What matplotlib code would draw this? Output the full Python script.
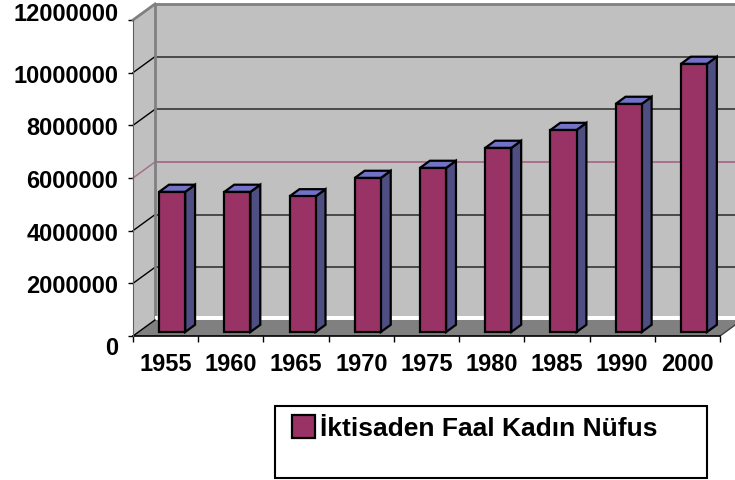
import matplotlib.pyplot as plt
from matplotlib.patches import Polygon, Rectangle

# data
yillar = ["1955", "1960", "1965", "1970", "1975", "1980", "1985", "1990", "2000"]
nufus = [5320000, 5320000, 5150000, 5850000, 6230000, 6990000, 7670000, 8660000, 10180000]
etiket = "İktisaden Faal Kadın Nüfus"
y_ticks = [0, 2000000, 4000000, 6000000, 8000000, 10000000, 12000000]

plt.rcParams['font.family'] = ['Liberation Sans', 'DejaVu Sans']
plt.rcParams['font.weight'] = 'bold'

W, H = 735, 481
fig = plt.figure(figsize=(W / 100, H / 100), dpi=100)
ax = fig.add_axes([133 / W, (H - 337) / H, 587 / W, 316 / H])

n = len(yillar)
ymax = y_ticks[-1]
ax.set_xlim(0, n)
ax.set_ylim(0, ymax)

# 3d offsets (depth of the box) in data units
dx = 0.337
dy = 0.608e6

duvar = "#c0c0c0"
# back wall
ax.add_patch(Polygon([(dx, dy), (n + dx, dy), (n + dx, ymax + dy), (dx, ymax + dy)],
                     closed=True, fc=duvar, ec="none", clip_on=False, zorder=1))
# left wall
ax.add_patch(Polygon([(0, 0), (dx, dy), (dx, ymax + dy), (0, ymax)],
                     closed=True, fc=duvar, ec="none", clip_on=False, zorder=1))
# grid lines on the walls
for v in y_ticks[1:-1]:
    renk = "#a86888" if v == 6000000 else "#404040"
    ax.plot([dx, n + dx], [v + dy, v + dy], color=renk, lw=1.3, clip_on=False, zorder=2)
    ax.plot([0, dx], [v, v + dy], color="#a86888" if v == 6000000 else "black",
            lw=1.0, clip_on=False, zorder=2)
# wall edges
ax.plot([dx, n + dx], [ymax + dy, ymax + dy], color="#808080", lw=2, clip_on=False, zorder=2)
ax.plot([dx, dx], [dy, ymax + dy], color="#808080", lw=2, clip_on=False, zorder=2)
ax.plot([0, dx], [ymax, ymax + dy], color="#808080", lw=2, clip_on=False, zorder=2)

# floor, with the white strip at the foot of the wall
ax.add_patch(Rectangle((dx, dy), n, 0.16e6, fc="white", ec="none", clip_on=False, zorder=2))
ax.add_patch(Polygon([(0, 0), (n, 0), (n + dx, dy), (dx, dy)],
                     closed=True, fc="#808080", ec="none", clip_on=False, zorder=2))
ax.plot([0, dx], [0, dy], color="black", lw=1, clip_on=False, zorder=2)
ax.plot([n, n + dx], [0, dy], color="#404040", lw=1, clip_on=False, zorder=2)

# bars
d0 = 0.25        # front face depth
bd = 0.45        # bar depth
genislik = 0.4
x = [i + 0.6 for i in range(n)]
taban = d0 * dy
ax.bar(x, nufus, width=genislik, bottom=taban, color="#993366", edgecolor="black",
       linewidth=1.6, label=etiket, zorder=4)
for xi, v in zip(x, nufus):
    sol = xi - genislik / 2
    sag = xi + genislik / 2
    ust = taban + v
    ax.add_patch(Polygon([(sag, taban), (sag + bd * dx, taban + bd * dy),
                          (sag + bd * dx, ust + bd * dy), (sag, ust)],
                         closed=True, fc="#4e4e82", ec="black", lw=1.6, zorder=3))
    ax.add_patch(Polygon([(sol, ust), (sag, ust), (sag + bd * dx, ust + bd * dy),
                          (sol + bd * dx, ust + bd * dy)],
                         closed=True, fc="#7272c6", ec="black", lw=1.6, zorder=3))

# axes
for s in ["top", "right"]:
    ax.spines[s].set_visible(False)
ax.spines["left"].set_color("#606060")
ax.spines["left"].set_zorder(5)
ax.spines["bottom"].set_color("black")
ax.spines["bottom"].set_linewidth(1.2)
ax.set_facecolor("none")

ax.set_yticks(y_ticks, [str(v) for v in y_ticks])
ax.set_xticks(range(n + 1), minor=False)
ax.set_xticklabels([])
ax.set_xticks([i + 0.5 for i in range(n)], yillar, minor=True)
ax.tick_params(axis="x", which="major", length=4.3, width=1, color="black")
ax.tick_params(axis="x", which="minor", length=0, pad=11.5, labelsize=17)
ax.tick_params(axis="y", length=3.6, width=1, color="black", pad=7, labelsize=17)
etiketler = ax.get_yticklabels()
etiketler[0].set_verticalalignment("top")
etiketler[-1].set_verticalalignment("baseline")

# legend
fig.add_artist(Rectangle((275 / W, 1 - 479 / H), 432 / W, 72 / H, transform=fig.transFigure,
                         fc="white", ec="black", lw=1.5))
fig.legend(loc="upper left", bbox_to_anchor=(292 / W, 1 - 416 / H), frameon=False,
           fontsize=19, handlelength=0.87, handleheight=0.95, handletextpad=0.2,
           borderpad=0, borderaxespad=0)

fig.savefig("out.png", dpi=100)
